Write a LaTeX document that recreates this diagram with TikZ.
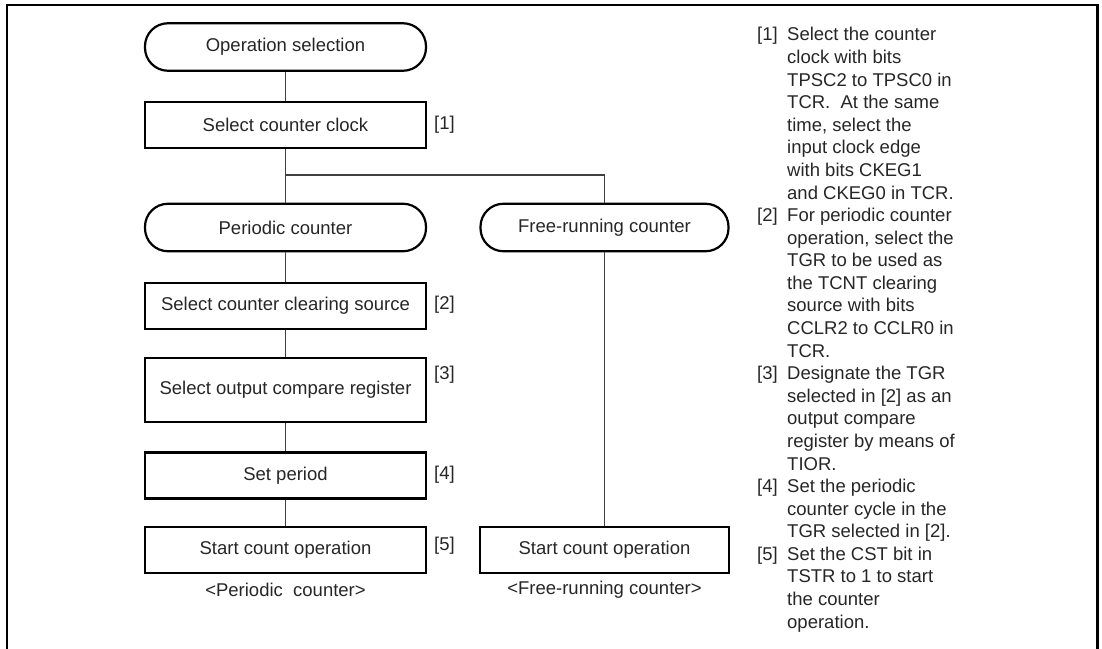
\documentclass[tikz,border=0pt]{standalone}
\usepackage{fontspec}
\setmainfont{Liberation Sans}
\begin{document}
\begin{tikzpicture}[x=1bp,y=-1bp,
  txt/.style={font=\fontsize{18.5bp}{22.58bp}\selectfont, text=black!85},
  proc/.style={draw=black, line width=2.2bp, minimum width=281bp, minimum height=46bp, inner sep=0pt, txt},
  term/.style={proc, rounded corners=23bp, minimum height=47.5bp},
  conn/.style={line width=1.3bp, draw=black!75},
  tag/.style={txt, anchor=west, inner sep=0pt},
  expl/.style={txt, anchor=base west, inner sep=0pt},
  frame/.style={line width=2.4bp, draw=black}]
\useasboundingbox (0,0) rectangle (1102,649);
% frame (open at the bottom)
\draw[frame] (7,649) -- (7,5) -- (1097.5,5) -- (1097.5,649);

% left column
\node[term] (op)  at (285.5,47)  {Operation selection};
\node[proc] (clk) at (285.5,125) {Select counter clock};
\node[term] (per) at (285.5,227.5) {Periodic counter};
\node[proc] (clr) at (285.5,306) {Select counter clearing source};
\node[proc, minimum height=64bp] (ocr) at (285.5,390) {Select output compare register};
\node[proc] (setp) at (285.5,475.5) {Set period};
\node[proc] (stl) at (285.5,550) {Start count operation};
\node[txt, inner sep=0pt] (capl) at (285.5,590) {<Periodic\ \ counter>};

% right column
\node[term, minimum width=248bp] (free) at (604.5,227.5) {Free-running counter};
\node[proc, minimum width=249bp] (str) at (604.5,550) {Start count operation};
\node[txt, inner sep=0pt] (capr) at (604.5,590) {<Free-running counter>};

% step tags
\node[tag] (t1) at (434,125) {[1]};
\node[tag] (t2) at (434,305) {[2]};
\node[tag] (t3) at (434,375) {[3]};
\node[tag] (t4) at (434,475) {[4]};
\node[tag] (t5) at (434,546) {[5]};

% connectors
\coordinate (br) at (285.5,175);
\draw[conn] (op) -- (clk);
\draw[conn] (clk) -- (per);
\draw[conn] (br) -| (free.north);
\draw[conn] (per) -- (clr);
\draw[conn] (clr) -- (ocr);
\draw[conn] (ocr) -- (setp);
\draw[conn] (setp) -- (stl);
\draw[conn] (free) -- (str);

% explanation column
\node[expl] (n1) at (757,41) {[1]};
\node[expl] (n2) at (757,{41+22.58*8}) {[2]};
\node[expl] (n3) at (757,{41+22.58*15}) {[3]};
\node[expl] (n4) at (757,{41+22.58*20}) {[4]};
\node[expl] (n5) at (757,{41+22.58*23}) {[5]};
\foreach \t [count=\i from 0] in {
  Select the counter,
  clock with bits,
  TPSC2 to TPSC0 in,
  TCR.\ \ At the same,
  {time, select the},
  input clock edge,
  with bits CKEG1,
  and CKEG0 in TCR.,
  For periodic counter,
  {operation, select the},
  TGR to be used as,
  the TCNT clearing,
  source with bits,
  CCLR2 to CCLR0 in,
  TCR.,
  Designate the TGR,
  {selected in [2] as an},
  output compare,
  register by means of,
  TIOR.,
  Set the periodic,
  counter cycle in the,
  {TGR selected in [2].},
  Set the CST bit in,
  TSTR to 1 to start,
  the counter,
  operation.}
{
  \node[expl] (e\i) at (787,{41+22.58*\i}) {\t};
}
\end{tikzpicture}
\end{document}
